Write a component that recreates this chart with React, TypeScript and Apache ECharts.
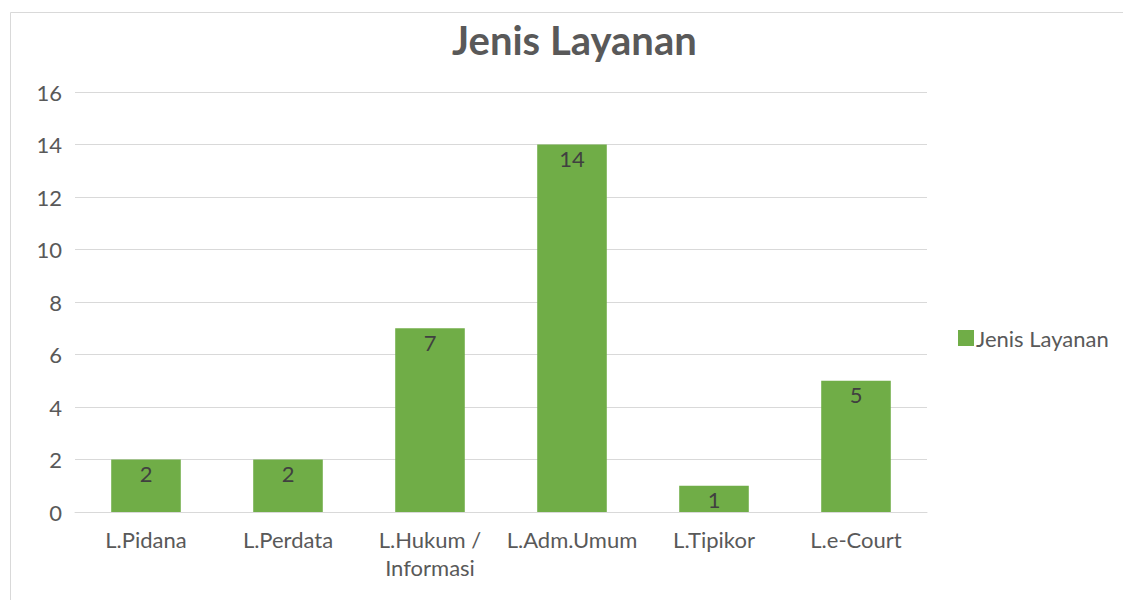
import React, { useEffect, useRef } from "react";
import * as echarts from "echarts";

const categories = ["L.Pidana", "L.Perdata", "L.Hukum /\nInformasi", "L.Adm.Umum", "L.Tipikor", "L.e-Court"];
const values = [2, 2, 7, 14, 1, 5];
const seriesName = "Jenis Layanan";
const titleText = "Jenis Layanan";

export default function App() {
  const ref = useRef<HTMLDivElement>(null);
  useEffect(() => {
    if (!ref.current) return;
    const chart = echarts.init(ref.current, null, { renderer: "svg" });
    const font = "Lato, 'Open Sans', sans-serif";
    chart.setOption({
      animation: false,
      backgroundColor: "#ffffff",
      textStyle: { fontFamily: font },
      graphic: [
        {
          type: "rect",
          shape: { x: 10.5, y: 12.5, width: 1120, height: 600 },
          style: { fill: "none", stroke: "#d9d9d9", lineWidth: 1 },
          silent: true,
        },
      ],
      title: {
        text: titleText,
        left: 447,
        top: 15,
        textStyle: { fontFamily: font, fontSize: 40, fontWeight: "bold", color: "#595959" },
      },
      legend: {
        data: [seriesName],
        orient: "vertical",
        left: 953,
        top: 322,
        itemWidth: 16,
        itemHeight: 16,
        itemGap: 8,
        icon: "rect",
        textStyle: { fontFamily: font, fontSize: 22, color: "#595959", padding: [0, 0, 0, -3] },
      },
      grid: { left: 75, right: 196, top: 92, bottom: 88 },
      xAxis: {
        type: "category",
        data: categories,
        axisLine: { lineStyle: { color: "#d9d9d9", width: 1 } },
        axisTick: { show: false },
        axisLabel: {
          color: "#595959",
          fontSize: 22,
          fontFamily: font,
          margin: 13,
          lineHeight: 28,
          interval: 0,
        },
      },
      yAxis: {
        type: "value",
        min: 0,
        max: 16,
        interval: 2,
        axisLine: { show: false },
        axisTick: { show: false },
        splitLine: { lineStyle: { color: "#d9d9d9", width: 1 } },
        axisLabel: { color: "#595959", fontSize: 22, fontFamily: font, margin: 13 },
      },
      series: [
        {
          name: seriesName,
          type: "bar",
          data: values,
          barWidth: "49%",
          itemStyle: { color: "#70ad47" },
          label: {
            show: true,
            position: "insideTop",
            distance: 3,
            color: "#404040",
            fontSize: 22,
            fontFamily: font,
          },
        },
      ],
    });
    return () => chart.dispose();
  }, []);
  return (
    <div
      ref={ref}
      style={{ position: "fixed", left: 0, top: 0, width: 1123, height: 600 }}
    />
  );
}
